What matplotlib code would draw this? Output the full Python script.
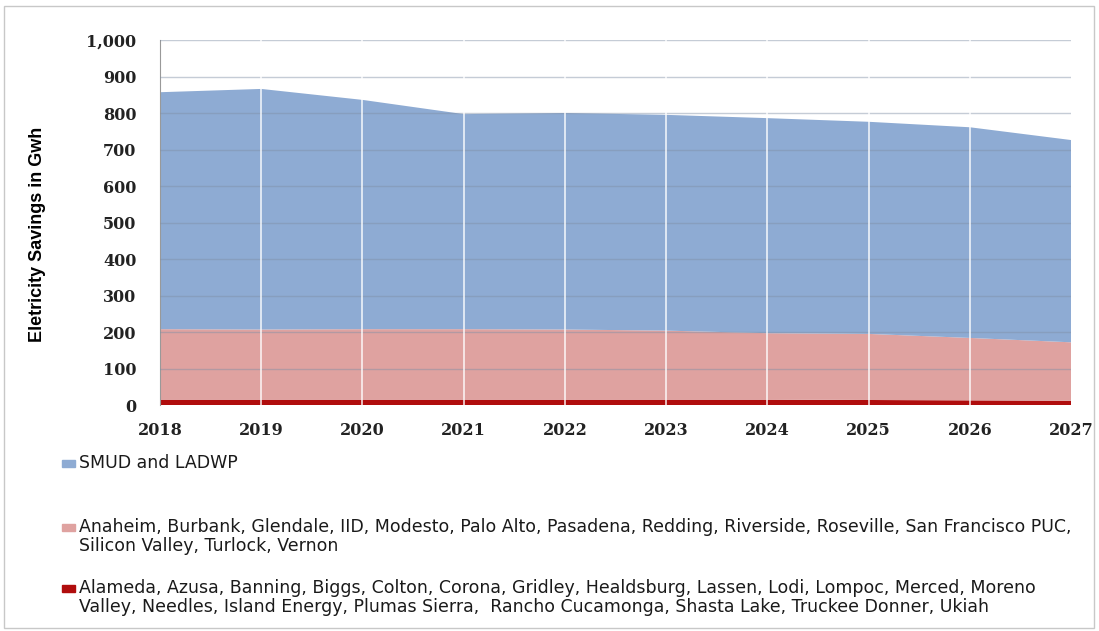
import numpy as np
import matplotlib
matplotlib.use("Agg")
import matplotlib.pyplot as plt
from matplotlib.patches import Rectangle

# values (GWh, stacked layers)
years = [2018, 2019, 2020, 2021, 2022, 2023, 2024, 2025, 2026, 2027]
small_pous = [15, 15, 15, 15, 15, 15, 15, 14, 13, 12]
mid_pous = [193, 192, 193, 193, 192, 189, 182, 181, 171, 160]
smud_ladwp = [649, 659, 628, 589, 593, 591, 589, 581, 577, 554]

labels = [
    "SMUD and LADWP",
    "Anaheim, Burbank, Glendale, IID, Modesto, Palo Alto, Pasadena, Redding, Riverside, Roseville, San Francisco PUC,\nSilicon Valley, Turlock, Vernon",
    "Alameda, Azusa, Banning, Biggs, Colton, Corona, Gridley, Healdsburg, Lassen, Lodi, Lompoc, Merced, Moreno\nValley, Needles, Island Energy, Plumas Sierra,  Rancho Cucamonga, Shasta Lake, Truckee Donner, Ukiah",
]
colors = ["#8eabd3", "#dfa2a0", "#b00d0d"]

fig = plt.figure(figsize=(10.99, 6.31), dpi=100)
ax = fig.add_axes([0.1456, 0.358, 0.829, 0.5786])

ax.stackplot(years, small_pous, mid_pous, smud_ladwp,
             colors=[colors[2], colors[1], colors[0]], linewidth=0)

# horizontal gridlines on top of the fill, vertical white separators
for v in range(100, 1001, 100):
    ax.axhline(v, color="#7f8fa6", linewidth=1, alpha=0.45, zorder=3)
for yr in years[1:-1]:
    ax.axvline(yr, color="white", linewidth=1.2, alpha=0.85, zorder=4)

ax.set_xlim(2018, 2027)
ax.set_ylim(0, 1000)
ax.set_xticks(years)
ax.set_yticks(range(0, 1001, 100))
ax.set_yticklabels([f"{v:,}" for v in range(0, 1001, 100)])
for lab in ax.get_xticklabels() + ax.get_yticklabels():
    lab.set_fontfamily("DejaVu Serif")
    lab.set_fontweight("bold")
    lab.set_fontsize(11.5)
    lab.set_color("#222222")
ax.tick_params(axis="y", length=0, pad=17)
ax.tick_params(axis="x", length=0, pad=12)
for s in ["top", "right", "bottom"]:
    ax.spines[s].set_visible(False)
ax.spines["left"].set_color("#999999")

ax.set_ylabel("Eletricity Savings in Gwh", fontfamily="Liberation Sans",
              fontweight="bold", fontsize=13)
ax.yaxis.set_label_coords(-0.125, 0.468)

# manual legend below the chart
leg_y = [463, 527, 588]
for c, lab, y in zip(colors, labels, leg_y):
    fy = 1 - y / 631
    fig.patches.append(Rectangle((62 / 1099, fy - 3.5 / 631), 13 / 1099, 7 / 631,
                                 transform=fig.transFigure, color=c))
    fig.text(79 / 1099, fy + 9 / 631, lab, va="top", ha="left", fontsize=12.5,
             family="DejaVu Sans", linespacing=1.05, color="#1a1a1a")

# outer frame
fig.patches.append(Rectangle((4 / 1099, 3 / 631), 1090 / 1099, 622 / 631,
                             transform=fig.transFigure, fill=False,
                             edgecolor="#c8c8c8", linewidth=1))

fig.savefig("out.png", dpi=100)
